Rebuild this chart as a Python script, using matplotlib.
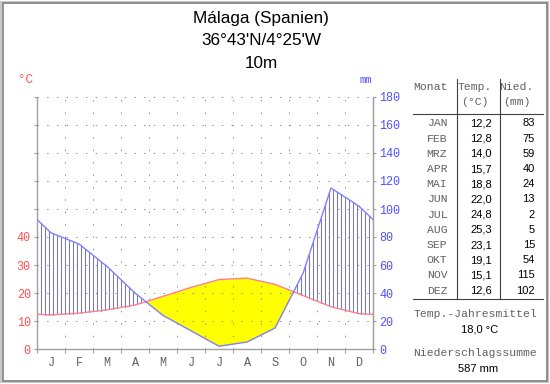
#!/usr/bin/env python3
"""Walter-Lieth climate diagram for Malaga."""

import matplotlib

matplotlib.use("Agg")
import matplotlib.pyplot as plt
import numpy as np
from matplotlib.lines import Line2D
from matplotlib.patches import Rectangle

TITLE = ["Málaga (Spanien)", "36°43'N/4°25'W", "10m"]
MONTH_INITIALS = ["J", "F", "M", "A", "M", "J", "J", "A", "S", "O", "N", "D"]
MONTH_ABBR = ["JAN", "FEB", "MRZ", "APR", "MAI", "JUN",
              "JUL", "AUG", "SEP", "OKT", "NOV", "DEZ"]
TEMP = [12.2, 12.8, 14.0, 15.7, 18.8, 22.0, 24.8, 25.3, 23.1, 19.1, 15.1, 12.6]
PRECIP = [83, 75, 59, 40, 24, 13, 2, 5, 15, 54, 115, 102]
TEMP_MEAN = "18,0 °C"
PRECIP_SUM = "587 mm"

W, H = 550, 384
RED = "#ff5050"
BLUE = "#5050ff"
GRAY = "#606060"
MONO = "Liberation Mono"
SANS = "Liberation Sans"


def fx(px):
    return px / W


def fy(py):
    return 1 - py / H


fig = plt.figure(figsize=(W / 100, H / 100), dpi=100)

# frame
fig.add_artist(Rectangle((fx(1), fy(382)), fx(547), 380 / H, transform=fig.transFigure,
                         fill=False, edgecolor="#c8c8c8", linewidth=1.5))
fig.add_artist(Rectangle((fx(3), fy(380.5)), fx(544), 377.5 / H, transform=fig.transFigure,
                         fill=False, edgecolor="#808080", linewidth=1.2))

for i, line in enumerate(TITLE):
    fig.text(fx(261), fy(18 + i * 22.5), line, ha="center", va="center",
             fontsize=12.3, family=SANS)

# diagram
ax = fig.add_axes([fx(37), fy(349), fx(373) - fx(37), (349 - 97) / H])
ax.set_xlim(0, 12)
ax.set_ylim(0, 180)

centers = np.arange(12) + 0.5
x = np.concatenate([[0], centers, [12]])
t_edge = (TEMP[0] + TEMP[-1]) / 2
p_edge = (PRECIP[0] + PRECIP[-1]) / 2
t2 = np.concatenate([[t_edge], TEMP, [t_edge]]) * 2
p = np.concatenate([[p_edge], PRECIP, [p_edge]])

ax.fill_between(x, p, t2, where=t2 >= p, interpolate=True, color="#ffff00",
                linewidth=0, zorder=1)

# vertical hatching in the humid part
xs = np.arange(1 / 7, 12, 1 / 7)
pi = np.interp(xs, x, p)
ti = np.interp(xs, x, t2)
wet = pi > ti
n = wet.sum()
hx = np.column_stack([xs[wet], xs[wet], np.full(n, np.nan)]).ravel()
hy = np.column_stack([ti[wet], pi[wet], np.full(n, np.nan)]).ravel()
ax.plot(hx, hy, color="#7070ff", linewidth=0.72, zorder=1.2)

ax.plot(x, t2, color="#ff8080", linewidth=1, zorder=3)
ax.plot(x, p, color="#8080ff", linewidth=1, zorder=3)

ax.spines["top"].set_visible(False)
for side in ["left", "right", "bottom"]:
    ax.spines[side].set_color("#a0a0a0")
    ax.spines[side].set_linewidth(1)

ax.set_xticks(np.arange(13))
ax.set_xticklabels([])
ax.set_xticks(centers, minor=True)
ax.set_xticklabels(MONTH_INITIALS, minor=True, family=MONO, fontsize=8.5, color=GRAY)
ax.tick_params(axis="x", which="major", length=3, color="#a0a0a0", direction="out")
ax.tick_params(axis="x", which="minor", length=0, pad=6)

yt = np.arange(0, 181, 20)
ax.set_yticks(yt)
ax.set_yticklabels([str(v // 2) if v <= 80 else "" for v in yt],
                   family=MONO, fontsize=8.5, color=RED)
ax.tick_params(axis="y", length=2.5, color="#a0a0a0", pad=2)

ax2 = ax.twinx()
ax2.set_ylim(0, 180)
ax2.set_yticks(yt)
ax2.set_yticklabels([str(v) for v in yt], family=MONO, fontsize=8.5, color=BLUE)
ax2.tick_params(axis="y", length=2.5, color="#a0a0a0", pad=2)
for side in ["top", "left", "bottom"]:
    ax2.spines[side].set_visible(False)
ax2.spines["right"].set_color("#a0a0a0")

ax.grid(True, axis="y", which="major", color="#909090", linewidth=0.72,
        linestyle=(0, (1.4, 8.3)))
ax.grid(True, axis="x", which="major", color="#909090", linewidth=0.72,
        linestyle=(0, (1.4, 11)))

fig.text(fx(25), fy(80), "°C", ha="center", va="center", family=MONO, fontsize=9, color=RED)
fig.text(fx(366), fy(80), "mm", ha="center", va="center", family=MONO, fontsize=7.5,
         color=BLUE)

# table
tab = dict(ha="center", va="center", family=MONO, fontsize=8.2, color=GRAY)
fig.text(fx(430), fy(87), "Monat", **tab)
fig.text(fx(475), fy(87), "Temp.", **tab)
fig.text(fx(475), fy(102), "(°C)", **tab)
fig.text(fx(516), fy(87), "Nied.", **tab)
fig.text(fx(517), fy(102), "(mm)", **tab)

for xl in (457, 500):
    fig.add_artist(Line2D([fx(xl), fx(xl)], [fy(79), fy(299)], color="#404040", linewidth=0.8))
for yl in (114, 299):
    fig.add_artist(Line2D([fx(413), fx(543)], [fy(yl), fy(yl)], color="#404040", linewidth=0.8))

for i, (m, t, pr) in enumerate(zip(MONTH_ABBR, TEMP, PRECIP)):
    yy = fy(123.5 + i * 15.2)
    fig.text(fx(437), yy, m, **tab)
    fig.text(fx(481), yy, f"{t:.1f}".replace(".", ","), ha="center", va="center",
             family=SANS, fontsize=8, color="black")
    fig.text(fx(535), yy, str(pr), ha="right", va="center", family=SANS, fontsize=8,
             color="black")

fig.text(fx(475), fy(314), "Temp.-Jahresmittel", **tab)
fig.text(fx(480), fy(329), TEMP_MEAN, ha="center", va="center", family=SANS, fontsize=8)
fig.text(fx(475), fy(353), "Niederschlagssumme", **tab)
fig.text(fx(478), fy(369), PRECIP_SUM, ha="center", va="center", family=SANS, fontsize=8)

fig.savefig("out.png", dpi=100)
